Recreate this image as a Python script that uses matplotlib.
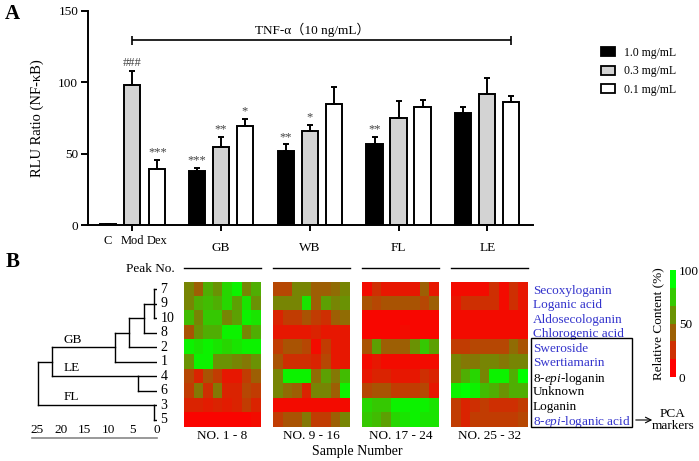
import numpy as np
import matplotlib
matplotlib.use('Agg')
import matplotlib.pyplot as plt
from matplotlib.colors import LinearSegmentedColormap, Normalize
from matplotlib.patches import Patch, Rectangle
import matplotlib.cm as cm

plt.rcParams['font.family'] = ['Liberation Serif', 'Noto Sans CJK SC']
plt.rcParams['mathtext.fontset'] = 'custom'
plt.rcParams['mathtext.rm'] = 'Liberation Serif'
plt.rcParams['mathtext.it'] = 'Liberation Serif:italic'

# ---- Panel A data (NF-kB luciferase) ----
control_labels = ['C', 'Mod', 'Dex']
control_means = [0.5, 98, 39]
control_err = [0, 10, 6.5]
control_colors = ['white', '#d3d3d3', 'white']
control_sig = ['', '###', '***']

groups = ['GB', 'WB', 'FL', 'LE']
dose_labels = ['1.0 mg/mL', '0.3 mg/mL', '0.1 mg/mL']
dose_colors = ['black', '#d3d3d3', 'white']
means_10 = [37.5, 52, 56.5, 78.5]
err_10 = [2.5, 4.5, 5.5, 4]
means_03 = [54.5, 66, 75, 92]
err_03 = [7.5, 4, 12, 11]
means_01 = [69.5, 85, 82.5, 86]
err_01 = [5, 12, 5, 4.5]
sig_10 = ['***', '**', '**', '']
sig_03 = ['**', '*', '', '']
sig_01 = ['*', '', '', '']

# ---- Panel B data (relative content heatmap) ----
peaks = ['7', '9', '10', '8', '2', '1', '4', '6', '3', '5']
compounds = ['Secoxyloganin', 'Loganic acid', 'Aldosecologanin', 'Chlorogenic acid',
             'Sweroside', 'Swertiamarin', '8-$\\mathit{epi}$-loganin', 'Unknown',
             'Loganin', '8-$\\mathit{epi}$-loganic acid']
compound_blue = [True, True, True, True, True, True, False, False, False, True]
sample_labels = ['NO. 1 - 8', 'NO. 9 - 16', 'NO. 17 - 24', 'NO. 25 - 32']

heat_gb = [[55, 40, 70, 60, 85, 95, 55, 70],
           [55, 70, 75, 70, 85, 65, 90, 60],
           [75, 55, 80, 80, 55, 65, 95, 90],
           [35, 60, 70, 70, 95, 95, 55, 70],
           [95, 90, 95, 90, 85, 90, 95, 95],
           [60, 95, 95, 60, 60, 55, 50, 60],
           [30, 15, 35, 25, 10, 10, 25, 40],
           [25, 50, 20, 50, 15, 15, 30, 25],
           [15, 15, 12, 15, 12, 15, 25, 15],
           [2, 2, 2, 2, 2, 2, 2, 5]]
heat_wb = [[30, 30, 55, 55, 40, 40, 45, 55],
           [55, 55, 55, 90, 40, 65, 55, 60],
           [15, 25, 25, 35, 25, 20, 40, 45],
           [10, 10, 10, 10, 15, 10, 10, 10],
           [25, 35, 35, 30, 5, 25, 10, 10],
           [35, 20, 20, 20, 15, 30, 10, 10],
           [55, 95, 95, 95, 45, 65, 50, 75],
           [55, 45, 40, 15, 55, 55, 40, 95],
           [5, 5, 5, 5, 5, 5, 5, 5],
           [25, 35, 35, 50, 25, 25, 40, 55]]
heat_fl = [[5, 20, 10, 10, 10, 10, 40, 10],
           [35, 30, 35, 35, 35, 35, 30, 40],
           [3, 3, 3, 3, 3, 3, 3, 3],
           [3, 3, 3, 3, 5, 3, 3, 3],
           [35, 65, 40, 40, 40, 60, 80, 65],
           [5, 10, 5, 5, 5, 5, 5, 5],
           [10, 15, 15, 10, 10, 10, 20, 15],
           [30, 35, 35, 25, 25, 25, 30, 10],
           [85, 80, 80, 95, 95, 95, 95, 90],
           [80, 75, 65, 85, 90, 95, 90, 90]]
heat_le = [[5, 5, 5, 5, 20, 5, 20, 10],
           [10, 20, 20, 20, 20, 5, 20, 10],
           [5, 5, 5, 5, 5, 5, 5, 5],
           [5, 5, 5, 5, 5, 5, 5, 5],
           [25, 25, 30, 30, 30, 30, 45, 35],
           [55, 50, 50, 55, 55, 50, 55, 55],
           [55, 70, 85, 55, 95, 95, 70, 100],
           [95, 100, 95, 75, 70, 60, 70, 70],
           [25, 15, 20, 25, 20, 20, 20, 25],
           [25, 15, 25, 25, 25, 25, 25, 30]]

# dendrogram merges: (node, children, distance)
dendro_merges = [('a', ['7', '9', '10'], 0.6),
                 ('b', ['a', '8'], 2.7),
                 ('c', ['b', '2'], 5.8),
                 ('GB', ['c', '1'], 8.75),
                 ('LE', ['4', '6'], 3.9),
                 ('FL', ['3', '5'], 0.6),
                 ('d', ['GB', 'LE'], 21.9),
                 ('root', ['d', 'FL'], 24.7)]
top_anchor = ['LE', 'FL']   # these clusters leave from their upper member
cluster_names = ['GB', 'LE', 'FL']

W, H = 699, 461
fig = plt.figure(figsize=(W / 100, H / 100), dpi=100)

# ================= Panel A =================
ax = fig.add_axes([88 / W, 1 - 225 / H, 445 / W, 214 / H])
ctrl_x = np.array([0, 1.02, 2.06])
group_x = 4.7 + 3.7 * np.arange(4)
bw = 0.67
lw = 1.4
ekw = dict(ecolor='black', elinewidth=lw, capsize=2.5, capthick=lw)

ax.bar(ctrl_x, control_means, width=bw, color=control_colors, edgecolor='black',
       linewidth=lw, yerr=[np.zeros(3), control_err], error_kw=ekw)
for k, (m, e, s) in enumerate(zip([means_10, means_03, means_01],
                                  [err_10, err_03, err_01],
                                  [sig_10, sig_03, sig_01])):
    xs = group_x + (k - 1)
    ax.bar(xs, m, width=bw, color=dose_colors[k], edgecolor='black', linewidth=lw,
           yerr=[np.zeros(4), e], error_kw=ekw, label=dose_labels[k])
    for xi, mi, ei, si in zip(xs, m, e, s):
        if si:
            ax.text(xi, mi + ei + 1.0, si, ha='center', va='bottom', fontsize=9,
                    color='#444444')
for xi, mi, ei, si in zip(ctrl_x, control_means, control_err, control_sig):
    if si:
        ax.text(xi, mi + ei + 1.0, si, ha='center', va='bottom', fontsize=9,
                color='#444444')

ax.set_xlim(-0.83, 17.7)
ax.set_ylim(0, 150)
ax.set_yticks([0, 50, 100, 150])
ax.set_xticks(np.concatenate([[ctrl_x[1]], group_x]))
ax.set_xticklabels([])
ax.tick_params(axis='both', width=lw, labelsize=9.5)
ax.tick_params(axis='x', length=4)
ax.tick_params(axis='y', length=5, pad=2)
for sp in ['top', 'right']:
    ax.spines[sp].set_visible(False)
for sp in ['left', 'bottom']:
    ax.spines[sp].set_linewidth(lw)
ax.set_ylabel('RLU Ratio (NF-κB)', fontsize=10.5, labelpad=10)

tr = ax.get_xaxis_transform()
for xi, lab in zip(ctrl_x, control_labels):
    ax.text(xi, -0.075, lab, transform=tr, ha='center', va='center', fontsize=9)
for xi, lab in zip(group_x, groups):
    ax.text(xi, -0.107, lab, transform=tr, ha='center', va='center', fontsize=9.5)

# TNF-alpha bracket
x_end = group_x[-1] + 1
ax.hlines(129.5, ctrl_x[1], x_end, color='black', lw=1.2)
ax.vlines([ctrl_x[1], x_end], 126.5, 132.5, color='black', lw=1.2)
ax.text(8.5, 136.5, 'TNF-α（10 ng/mL）', ha='center', va='center', fontsize=9.5)

handles = [Patch(facecolor=c, edgecolor='black', linewidth=1.3) for c in dose_colors]
fig.legend(handles, dose_labels, loc='upper left', bbox_to_anchor=(596 / W, 1 - 42 / H),
           frameon=False, fontsize=8.5, handlelength=1.25, handleheight=0.8,
           handletextpad=0.7, labelspacing=0.55, borderaxespad=0)

fig.text(12 / W, 1 - 14 / H, 'A', fontsize=15, fontweight='bold', ha='center', va='center')
fig.text(13 / W, 1 - 262 / H, 'B', fontsize=15, fontweight='bold', ha='center', va='center')

# ================= Panel B =================
cmap = LinearSegmentedColormap.from_list('rg', [(1, 0, 0), (0.52, 0.47, 0.02), (0, 1, 0)])
block_left = [184, 273, 362, 451]
heats = [heat_gb, heat_wb, heat_fl, heat_le]
for k, (bl, data, lab) in enumerate(zip(block_left, heats, sample_labels)):
    hx = fig.add_axes([bl / W, 34 / H, 77 / W, 145 / H])
    hx.imshow(np.array(data), cmap=cmap, vmin=0, vmax=100, aspect='auto',
              interpolation='nearest')
    hx.set_xticks([])
    hx.set_yticks([])
    for sp in hx.spines.values():
        sp.set_visible(False)
    hx.set_xlabel(lab, fontsize=9.5, labelpad=2)
    hx.plot([0, 1], [1.097, 1.097], transform=hx.transAxes, color='black', lw=1,
            clip_on=False)
    if k == 3:
        hx.yaxis.tick_right()
        hx.set_yticks(np.arange(len(compounds)))
        hx.set_yticklabels(compounds, fontsize=9.5)
        hx.tick_params(axis='y', length=0, pad=3.5)
        for t, blue in zip(hx.get_yticklabels(), compound_blue):
            t.set_color('#3333cc' if blue else 'black')
        hx.annotate('', xy=(655 / W, 1 - 420 / H), xytext=(633 / W, 1 - 420 / H),
                    xycoords='figure fraction', textcoords='figure fraction',
                    arrowprops=dict(arrowstyle='->', lw=0.8, color='black'),
                    annotation_clip=False)

fig.add_artist(Rectangle((531 / W, 1 - 427 / H), 101 / W, 89 / H, transform=fig.transFigure,
                         fill=False, edgecolor='black', lw=1))
fig.text(673 / W, 1 - 420 / H, 'PCA\nmarkers', ha='center', va='center', fontsize=9.5,
         linespacing=1.1)
fig.text(175 / W, 1 - 269 / H, 'Peak No.', ha='right', va='center', fontsize=9.5)
fig.text(357 / W, 1 - 451 / H, 'Sample Number', ha='center', va='center', fontsize=10)

# colour bar
cax = fig.add_axes([670 / W, 84 / H, 6 / W, 107 / H])
sm = cm.ScalarMappable(norm=Normalize(0, 100), cmap=cmap.resampled(6))
cb = fig.colorbar(sm, cax=cax, ticks=[0, 50, 100])
cb.outline.set_visible(False)
cax.tick_params(length=0, labelsize=9.5, pad=2)
cax.yaxis.set_label_position('left')
cb.set_label('Relative Content (%)', fontsize=9.5, labelpad=4)

# dendrogram
dx = fig.add_axes([32 / W, 1 - 438 / H, 125 / W, 156 / H])
dx.set_xlim(26, 0)
dx.set_ylim(10.76, 0)
dx.set_xticks([])
dx.set_yticks([])
for sp in ['top', 'right', 'left']:
    dx.spines[sp].set_visible(False)
dx.spines['bottom'].set_color('#888888')
dx.spines['bottom'].set_linewidth(1.2)
for v in [0, 5, 10, 15, 20, 25]:
    dx.text(v, 10.2, str(v), ha='center', va='center', fontsize=9.5)

pos_y = {p: i + 0.5 for i, p in enumerate(peaks)}
pos_x = {p: 0.0 for p in peaks}
for p in peaks:
    dx.text(-0.7, pos_y[p], p, ha='left', va='center', fontsize=10, clip_on=False)
for node, kids, dist in dendro_merges:
    ys = [pos_y[c] for c in kids]
    dx.plot([dist, dist], [min(ys), max(ys)], color='black', lw=1)
    for c in kids:
        dx.plot([pos_x[c], dist], [pos_y[c], pos_y[c]], color='black', lw=1)
    pos_y[node] = min(ys) if node in top_anchor else float(np.mean(ys))
    pos_x[node] = dist
for name in cluster_names:
    dx.text(19.5, pos_y[name] - 0.12, name, ha='left', va='bottom', fontsize=9.5)

fig.savefig('out.png', dpi=100)
